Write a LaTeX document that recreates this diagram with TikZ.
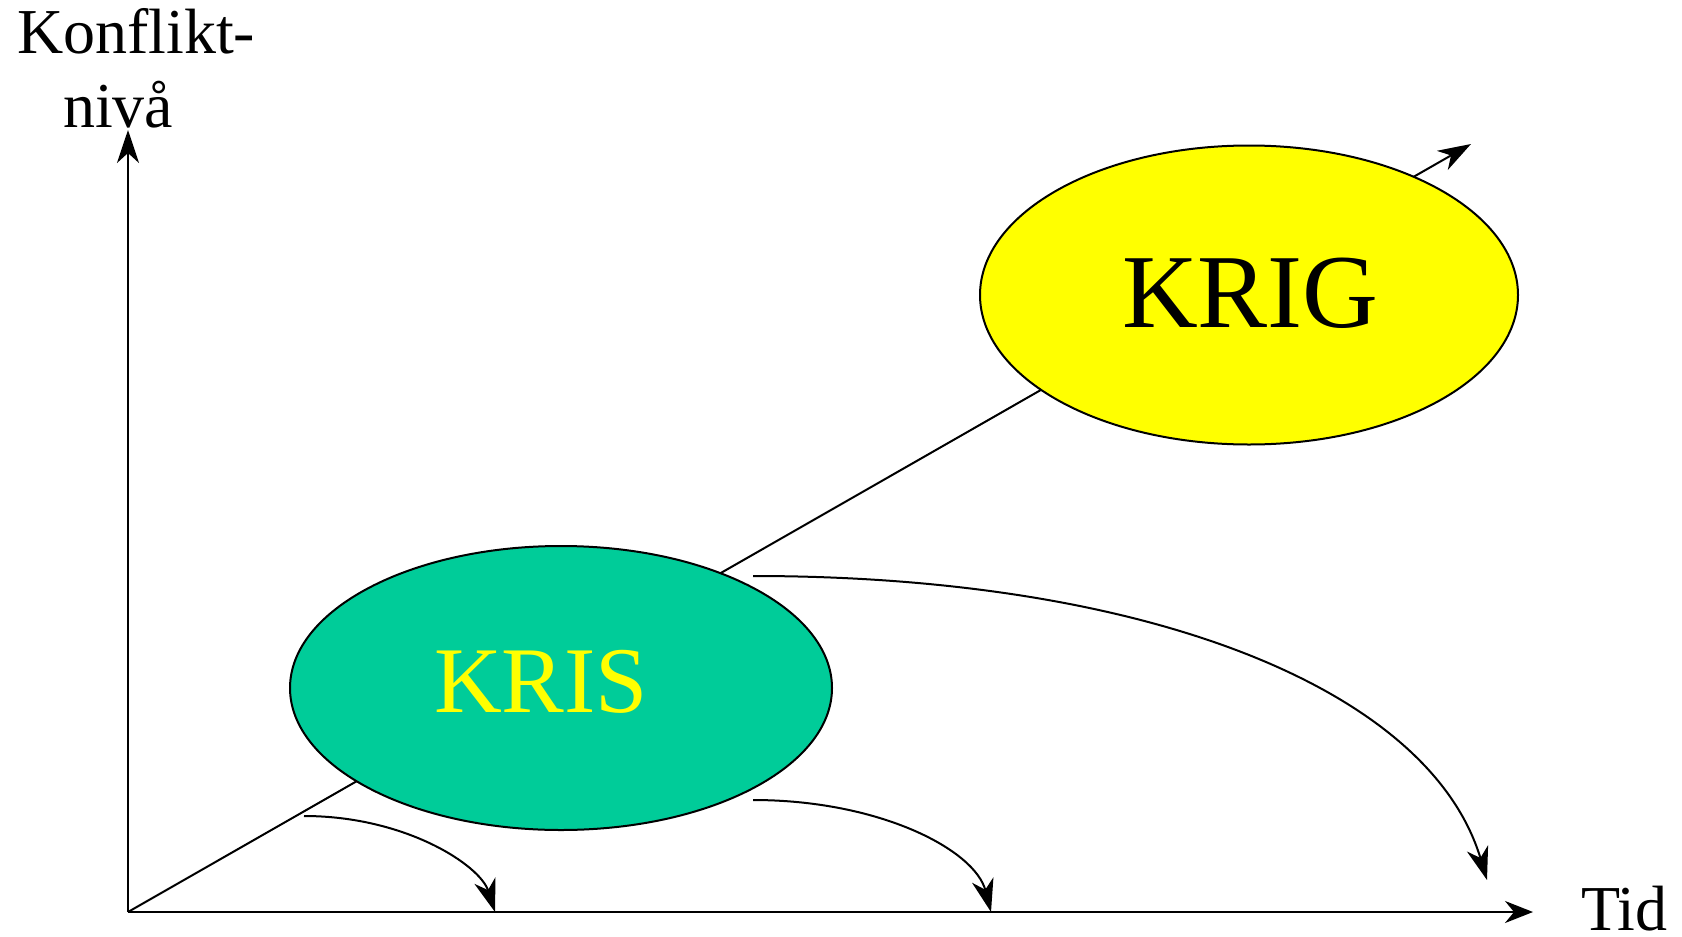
\documentclass[tikz,border=0pt]{standalone}
\usepackage{fontspec}
\setmainfont{Liberation Serif}
\usetikzlibrary{arrows.meta,shapes.geometric}
\definecolor{krisgron}{RGB}{0,204,153}
\definecolor{kriggul}{RGB}{255,255,0}
\tikzset{
  pil/.style={-{Stealth[length=33pt,width=22pt,inset=10pt]}},
  fas/.style={ellipse,draw,line width=2pt,inner sep=0pt},
  etikett/.style={anchor=base west,inner sep=0pt,font=\fontsize{64}{64}\selectfont},
}

\begin{document}
\begin{tikzpicture}[x=1pt,y=-1pt,line width=2pt]
        \useasboundingbox (0,0) rectangle (1682,937);
        % axlar
        \coordinate (origo) at (128,912);
        \coordinate (ytopp) at (128,130);
        \coordinate (xslut) at (1533,912);
        \coordinate (trend) at (1471,144);
        \draw[pil] (origo) -- (ytopp);
        \draw[-{Stealth[length=28pt,width=22pt,inset=9pt]}] (origo) -- (xslut);
        \draw[pil] (origo) -- (trend);
        \node[etikett] (konflikt) at (16,53) {Konflikt-};
        \node[etikett] (niva) at (62,127) {nivå};
        \node[etikett,font=\fontsize{64}{64}\selectfont] (tid) at (1580,930) {Tid};
        % faser
        \node[fas,fill=krisgron,minimum width=542pt,minimum height=284pt] (kris) at (561,688) {};
        \node[fas,fill=kriggul,minimum width=538pt,minimum height=299pt] (krig) at (1249,295) {};
        \node[anchor=base west,inner sep=0pt,text=kriggul,font=\fontsize{94}{94}\selectfont] (kristext) at (433,712) {KRIS};
        \node[anchor=base west,inner sep=0pt,font=\fontsize{105}{105}\selectfont] (krigtext) at (1121,327) {KRIG};
        % utfall
        \coordinate (ut1) at (304,816);
        \coordinate (ut2) at (753,800);
        \coordinate (ut3) at (753,576);
        \coordinate (mal1) at (495,912);
        \coordinate (mal2) at (991,912);
        \coordinate (mal3) at (1487,880);
        \draw[pil] (ut1) .. controls (405,816) and (480,865) .. (mal1);
        \draw[pil] (ut2) .. controls (880,800) and (975,850) .. (mal2);
        \draw[pil] (ut3) .. controls (1150,576) and (1430,690) .. (mal3);
\end{tikzpicture}
\end{document}
